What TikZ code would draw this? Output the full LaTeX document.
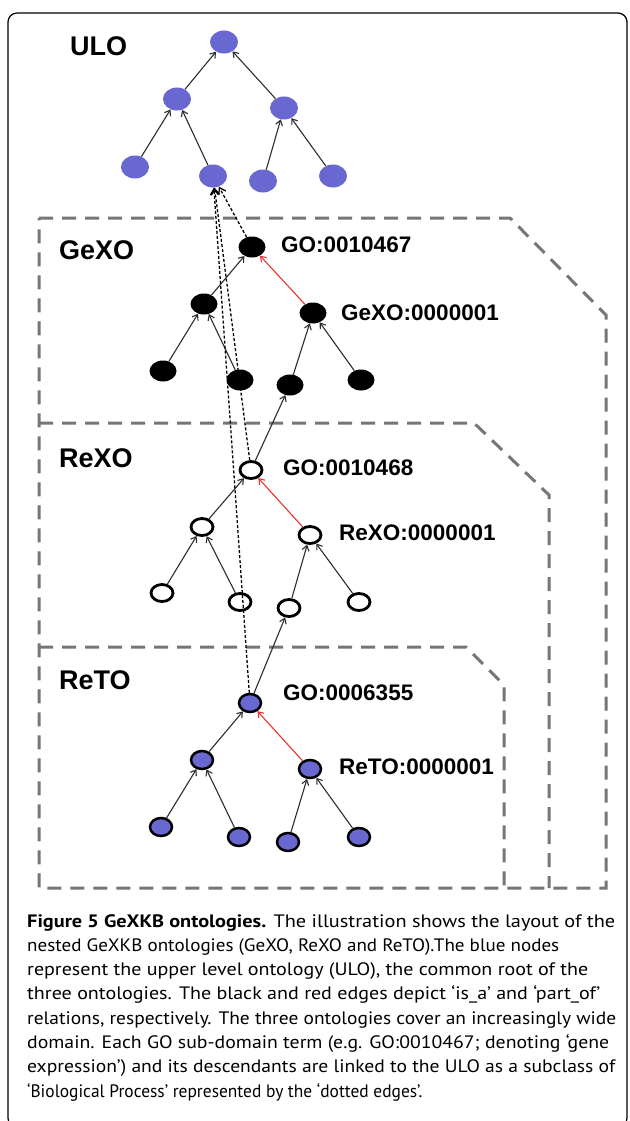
\documentclass[tikz,border=0pt]{standalone}
\usepackage{graphicx}
\usepackage{fontspec}
\setmainfont{Liberation Sans}
\newfontfamily\capfont{PT Sans}
\usetikzlibrary{arrows.meta,shapes.geometric}
\definecolor{ulob}{RGB}{104,104,208}
\definecolor{boxgray}{RGB}{118,118,118}
\definecolor{redge}{RGB}{235,50,50}
\definecolor{edgegray}{RGB}{45,45,45}
\newcommand{\capline}[3]{\node[capnode] at (27,#1) {\resizebox{#2pt}{\height}{\capfont\fontsize{18}{22}\selectfont #3}};}
\begin{document}
\begin{tikzpicture}[x=1pt,y=-1pt,
  ulonode/.style={ellipse, fill=ulob, minimum width=28pt, minimum height=23pt, inner sep=0pt},
  genode/.style={ellipse, fill=black, minimum width=27pt, minimum height=21pt, inner sep=0pt},
  renode/.style={ellipse, draw=black, line width=2.8pt, fill=white, minimum width=22pt, minimum height=17pt, inner sep=0pt},
  rtnode/.style={ellipse, draw=black, line width=2.5pt, fill=ulob, minimum width=22pt, minimum height=18pt, inner sep=0pt},
  isa/.style={draw=edgegray, line width=1.1pt, -{Straight Barb[length=5pt,width=7pt]}},
  partof/.style={isa, draw=redge},
  dotedge/.style={draw=black, line width=1.3pt, dash pattern=on 3pt off 2pt, -{Straight Barb[length=6pt,width=8pt]}},
  regionbox/.style={draw=boxgray, line width=3pt, dash pattern=on 14pt off 9pt},
  grouplab/.style={font=\bfseries\fontsize{27}{30}\selectfont, anchor=west, inner sep=0pt},
  termlab/.style={font=\bfseries\fontsize{22.5}{26}\selectfont, anchor=west, inner sep=0pt},
  capnode/.style={anchor=base west, inner sep=0pt}
]
\useasboundingbox (0,0) rectangle (629,1121);
\fill[white] (0,0) rectangle (629,1121);
% outer frame
\draw[line width=1.2pt, rounded corners=9pt] (8,13) rectangle (627,1127);

% region boxes
\draw[regionbox] (39,218) -- (510,218) -- (606,315) -- (606,888) -- (39,888) -- cycle;
\draw[regionbox] (39,423) -- (474,423) -- (549,495) -- (549,888);
\draw[regionbox] (39,647) -- (466,647) -- (504,685) -- (504,888);

% ULO nodes
\node[ulonode] (u0) at (224,42) {};
\node[ulonode] (u1) at (177,99) {};
\node[ulonode] (u2) at (284,108) {};
\node[ulonode] (u3) at (135,167) {};
\node[ulonode] (u4) at (213,176) {};
\node[ulonode] (u5) at (263,181) {};
\node[ulonode] (u6) at (333,176) {};
% GeXO nodes
\node[genode] (g0) at (252,247) {};
\node[genode] (g1) at (204,304) {};
\node[genode] (g2) at (313,313) {};
\node[genode] (g3) at (163,371) {};
\node[genode] (g4) at (240,380) {};
\node[genode] (g5) at (290,385) {};
\node[genode] (g6) at (361,380) {};
% ReXO nodes
\node[renode] (r0) at (251,470) {};
\node[renode] (r1) at (202,527) {};
\node[renode] (r2) at (310,535) {};
\node[renode] (r3) at (162,593) {};
\node[renode] (r4) at (240,602) {};
\node[renode] (r5) at (289,608) {};
\node[renode] (r6) at (359,602) {};
% ReTO nodes
\node[rtnode] (t0) at (250,703) {};
\node[rtnode] (t1) at (202,760) {};
\node[rtnode] (t2) at (310,769) {};
\node[rtnode] (t3) at (161,827) {};
\node[rtnode] (t4) at (239,837) {};
\node[rtnode] (t5) at (288,842) {};
\node[rtnode] (t6) at (359,837) {};

% is_a edges
\foreach \c/\p in {u1/u0,u2/u0,u3/u1,u4/u1,u5/u2,u6/u2,
                   g1/g0,g3/g1,g4/g1,g5/g2,g6/g2,
                   r0/g5,r1/r0,r3/r1,r4/r1,r5/r2,r6/r2,
                   t0/r5,t1/t0,t3/t1,t4/t1,t5/t2,t6/t2}
  \draw[isa] (\c) -- (\p);
% part_of edges
\draw[partof] (g2) -- (g0);
\draw[partof] (r2) -- (r0);
\draw[partof] (t2) -- (t0);

% dotted edges to ULO
\draw[dotedge] (g0) -- (u4);
\draw[dotedge] (r0) -- (u4);
\draw[dotedge] (t0) -- (u4);

% labels
\node[grouplab] (lulo) at (70,46) {ULO};
\node[grouplab] (lgexo) at (59,250) {GeXO};
\node[grouplab] (lrexo) at (59,458) {ReXO};
\node[grouplab] (lreto) at (59,680) {ReTO};
\node[termlab] (lg0) at (281,245) {GO:0010467};
\node[termlab] (lg2) at (341,313) {GeXO:0000001};
\node[termlab] (lr0) at (283,468) {GO:0010468};
\node[termlab] (lr2) at (339,533) {ReXO:0000001};
\node[termlab] (lt0) at (283,693) {GO:0006355};
\node[termlab] (lt2) at (339,767) {ReTO:0000001};

% caption
\capline{927}{588}{\textbf{Figure 5 GeXKB ontologies.} The illustration shows the layout of the}
\capline{951.3}{532}{nested GeXKB ontologies (GeXO, ReXO and ReTO).The blue nodes}
\capline{975.6}{561}{represent the upper level ontology (ULO), the common root of the}
\capline{999.9}{573}{three ontologies. The black and red edges depict ‘is\_a’ and ‘part\_of’}
\capline{1024.2}{589}{relations, respectively. The three ontologies cover an increasingly wide}
\capline{1048.5}{582}{domain. Each GO sub-domain term (e.g. GO:0010467; denoting ‘gene}
\capline{1072.8}{588}{expression’) and its descendants are linked to the ULO as a subclass of}
\capline{1097.1}{395}{‘Biological Process’ represented by the ‘dotted edges’.}
\end{tikzpicture}
\end{document}
